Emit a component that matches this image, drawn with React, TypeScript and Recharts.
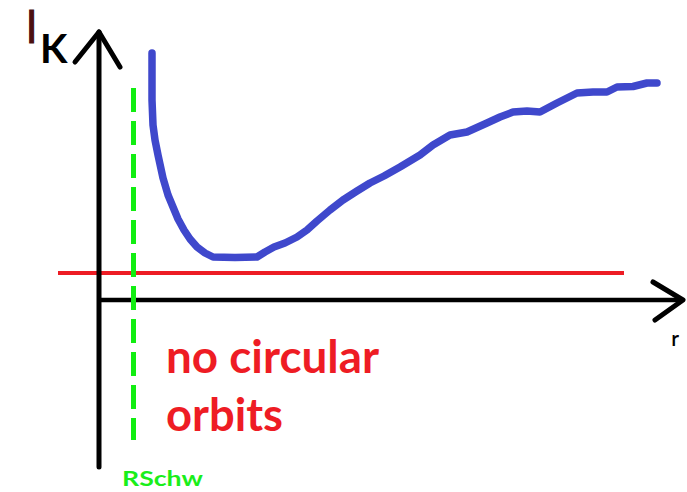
import React from "react";
import { ComposedChart, Line, XAxis, YAxis } from "recharts";

// Effective potential sketch: l_K vs r (arbitrary units, origin at axes crossing)
const lkCurve = [
  { x: 5.3, y: 24.7 }, { x: 5.3, y: 20.0 }, { x: 5.4, y: 17.5 }, { x: 5.6, y: 16.0 },
  { x: 5.9, y: 14.5 }, { x: 6.4, y: 12.2 }, { x: 6.9, y: 10.5 }, { x: 7.4, y: 9.3 },
  { x: 7.9, y: 8.1 }, { x: 8.5, y: 7.0 }, { x: 9.1, y: 6.1 }, { x: 9.8, y: 5.3 },
  { x: 10.6, y: 4.7 }, { x: 11.4, y: 4.3 }, { x: 13.6, y: 4.25 }, { x: 15.8, y: 4.3 },
  { x: 16.6, y: 4.8 }, { x: 17.5, y: 5.3 }, { x: 18.6, y: 5.7 }, { x: 19.8, y: 6.3 },
  { x: 20.8, y: 7.0 }, { x: 21.8, y: 7.9 }, { x: 23.1, y: 9.0 }, { x: 24.4, y: 10.0 },
  { x: 25.8, y: 10.9 }, { x: 27.1, y: 11.7 }, { x: 28.5, y: 12.4 }, { x: 30.1, y: 13.3 },
  { x: 32.1, y: 14.5 }, { x: 33.4, y: 15.5 }, { x: 35.1, y: 16.5 }, { x: 36.8, y: 16.8 },
  { x: 38.8, y: 17.7 }, { x: 40.1, y: 18.3 }, { x: 41.4, y: 18.8 }, { x: 42.8, y: 18.9 },
  { x: 44.1, y: 18.8 }, { x: 45.8, y: 19.7 }, { x: 47.8, y: 20.7 }, { x: 49.4, y: 20.8 },
  { x: 50.8, y: 20.8 }, { x: 51.8, y: 21.3 }, { x: 53.4, y: 21.35 }, { x: 54.8, y: 21.7 },
  { x: 55.8, y: 21.7 },
];

const levelLine = [{ x: -4.1, y: 2.7 }, { x: 52.5, y: 2.7 }];
const schwarzschild = [{ x: 3.45, y: 21.2 }, { x: 3.45, y: -14.0 }];

const yAxisLine = [{ x: 0, y: -16.7 }, { x: 0, y: 26.8 }];
const yAxisArrow = [{ x: -2.4, y: 23.8 }, { x: 0, y: 26.8 }, { x: 2.1, y: 23.3 }];
const xAxisLine = [{ x: 0, y: 0 }, { x: 58.4, y: 0 }];
const xAxisArrow = [{ x: 55.4, y: 1.8 }, { x: 58.4, y: 0 }, { x: 55.6, y: -2.0 }];

const labelY = "l";
const labelYSub = "K";
const labelX = "r";
const labelRs = "RSchw";
const noteLines = ["no circular", "orbits"];

const W = 687;
const H = 492;

export default function App() {
  const common = {
    dataKey: "y",
    dot: false,
    activeDot: false,
    isAnimationActive: false,
    type: "linear" as const,
    strokeLinecap: "round" as const,
    strokeLinejoin: "round" as const,
  };
  return (
    <div style={{ position: "absolute", left: 0, top: 0, width: W, height: H, background: "#fff" }}>
      <ComposedChart width={W} height={H} margin={{ top: 0, right: 0, bottom: 0, left: 49 }}>
        <XAxis type="number" dataKey="x" domain={[-5, 58.8]} hide allowDataOverflow />
        <YAxis type="number" dataKey="y" domain={[-19.2, 30]} hide allowDataOverflow />
        <Line {...common} data={levelLine} stroke="#ed1c24" strokeWidth={4} strokeLinecap="butt" />
        <Line {...common} data={yAxisLine} stroke="#000" strokeWidth={5} />
        <Line {...common} data={yAxisArrow} stroke="#000" strokeWidth={5} />
        <Line {...common} data={xAxisLine} stroke="#000" strokeWidth={4.5} strokeLinecap="butt" />
        <Line {...common} data={xAxisArrow} stroke="#000" strokeWidth={5} />
        <Line {...common} data={schwarzschild} stroke="#11ee11" strokeWidth={5} strokeDasharray="24 9" strokeLinecap="butt" />
        <Line {...common} data={lkCurve} stroke="#3f48cc" strokeWidth={7.5} />
        <text x={31.5} y={43} textAnchor="middle" fontFamily="DejaVu Sans" fontSize={42} fill="#4a1010" stroke="#4a1010" strokeWidth={1.2}>{labelY}</text>
        <text x={40} y={63} fontFamily="Lato" fontWeight="bold" fontSize={40} fill="#000">{labelYSub}</text>
        <text x={675} y={346} textAnchor="middle" fontFamily="Lato" fontWeight={600} fontSize={21} fill="#000">{labelX}</text>
        <text x={122} y={486} fontFamily="Lato" fontWeight="bold" fontSize={21} fill="#1aee1a" textLength={81} lengthAdjust="spacingAndGlyphs">{labelRs}</text>
        <text x={166} y={373} fontFamily="Lato" fontWeight="bold" fontSize={46} fill="#ee1c24" textLength={213} lengthAdjust="spacingAndGlyphs">{noteLines[0]}</text>
        <text x={166} y={431} fontFamily="Lato" fontWeight="bold" fontSize={46} fill="#ee1c24" textLength={117} lengthAdjust="spacingAndGlyphs">{noteLines[1]}</text>
      </ComposedChart>
    </div>
  );
}
